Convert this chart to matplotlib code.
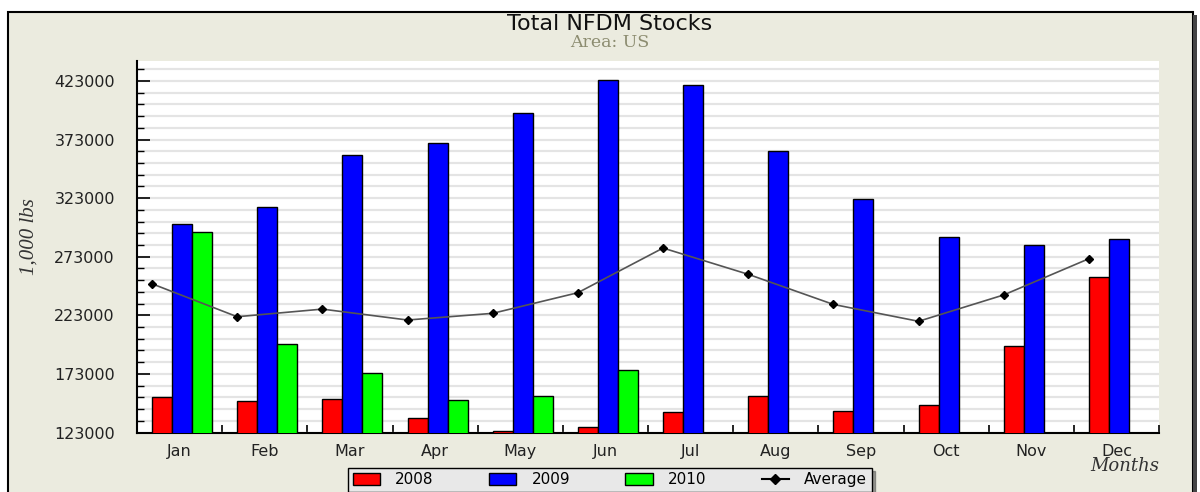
import numpy as np
from matplotlib import pyplot as plt
from matplotlib.patches import Patch, Rectangle
from matplotlib.lines import Line2D

months = ["Jan", "Feb", "Mar", "Apr", "May", "Jun",
          "Jul", "Aug", "Sep", "Oct", "Nov", "Dec"]
stocks_2008 = [153500, 150100, 151800, 135100, 124000, 127400,
               140700, 153900, 141600, 146200, 196800, 255400]
stocks_2009 = [300900, 315100, 359700, 369700, 395300, 423700,
               419200, 363400, 322200, 289800, 283000, 288100]
stocks_2010 = [294300, 198500, 173500, 150700, 153900, 176000,
               None, None, None, None, None, None]
average = [249900, 221800, 228300, 219000, 224700, 242300,
           280400, 258000, 232300, 217900, 240400, 271300]

bg = "#ebebdf"
fig = plt.figure(figsize=(12, 4.92), dpi=100, facecolor="white")

# beige panel with black frame (bottom runs off the picture)
fig.patches.append(Rectangle((0.0065, -0.1), 0.988, 1.075, transform=fig.transFigure,
                             facecolor=bg, edgecolor="black", linewidth=1.5, zorder=-10))
fig.patches.append(Rectangle((0.9945, -0.1), 0.003, 1.07, transform=fig.transFigure,
                             facecolor="#444444", edgecolor="none", zorder=-10))

ax = fig.add_axes([0.1142, 0.1209, 0.8517, 0.7551])
ax.set_facecolor("white")

x = np.arange(len(months))
w = 0.235
left = -0.324
ax.bar(x + left, stocks_2008, width=w, align="edge",
       color="#ff0000", edgecolor="black", linewidth=1, zorder=3)
ax.bar(x + left + w, stocks_2009, width=w, align="edge",
       color="#0000ff", edgecolor="black", linewidth=1, zorder=3)
x10 = [i for i, v in enumerate(stocks_2010) if v is not None]
v10 = [v for v in stocks_2010 if v is not None]
ax.bar(np.array(x10) + left + 2 * w, v10, width=w, align="edge",
       color="#00ff00", edgecolor="black", linewidth=1, zorder=3)
ax.plot(x + left, average, color="#555555", linewidth=1.2, marker="D",
        markersize=4, markerfacecolor="black", markeredgecolor="black", zorder=4)

ax.set_xlim(-0.5, 11.5)
ax.set_ylim(123000, 440000)

# grid every 10000, labels every 50000
ax.set_yticks(np.arange(123000, 424000, 50000))
ax.set_yticks(np.arange(133000, 440000, 10000), minor=True)
ax.grid(axis="y", which="both", color="#e4e4e4", linewidth=1.6, zorder=1)
ax.set_axisbelow(True)
ax.tick_params(axis="y", which="major", direction="in", length=9, width=1.2,
               labelsize=11.5, pad=16, labelcolor="#222222")
ax.tick_params(axis="y", which="minor", direction="in", length=5, width=1)

ax.set_xticks(x)
ax.set_xticklabels(months)
ax.set_xticks(np.arange(0.5, 12, 1), minor=True)
ax.tick_params(axis="x", which="major", length=0, labelsize=11.5, pad=8,
               labelcolor="#222222")
ax.tick_params(axis="x", which="minor", direction="in", length=6, width=1.2)

for s in ["top", "right"]:
    ax.spines[s].set_visible(False)
ax.spines["left"].set_linewidth(1.5)
ax.spines["bottom"].set_linewidth(1.5)

fig.text(0.508, 0.951, "Total NFDM Stocks", ha="center", va="center",
         fontsize=16, family="DejaVu Sans", color="#111111")
fig.text(0.508, 0.914, "Area: US", ha="center", va="center",
         fontsize=12.5, family="DejaVu Serif", color="#8c8c70")
fig.text(0.024, 0.52, "1,000 lbs", rotation=90, ha="center", va="center",
         fontsize=15, family="Liberation Serif", style="italic", color="#333333")
fig.text(0.966, 0.053, "Months", ha="right", va="center",
         fontsize=13, family="DejaVu Serif", style="italic", color="#333333")

handles = [Patch(facecolor="#ff0000", edgecolor="black", label="2008"),
           Patch(facecolor="#0000ff", edgecolor="black", label="2009"),
           Patch(facecolor="#00ff00", edgecolor="black", label="2010"),
           Line2D([], [], color="black", marker="D", markersize=5, label="Average")]
leg = fig.legend(handles=handles, loc="upper left", bbox_to_anchor=(0.29, 0.049),
                 ncol=4, frameon=True, fancybox=False, shadow=True, fontsize=11,
                 handlelength=1.8, handleheight=0.8, columnspacing=3.6,
                 borderpad=0.3, handletextpad=1.0, borderaxespad=0)
leg.get_frame().set_facecolor("#e8e8e8")
leg.get_frame().set_edgecolor("black")
leg.get_frame().set_alpha(1)

fig.savefig("out.png", dpi=100, facecolor="white")
